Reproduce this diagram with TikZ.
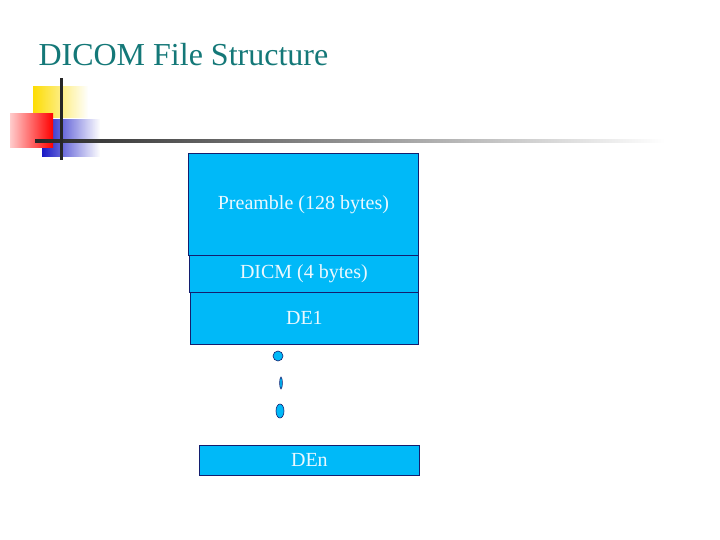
\documentclass[tikz,border=0pt]{standalone}
\usepackage{fontspec}
\setmainfont{Liberation Serif}
\usetikzlibrary{fadings}
\definecolor{boxfill}{RGB}{0,185,248}
\definecolor{boxline}{RGB}{20,30,110}
\definecolor{titlec}{RGB}{20,120,120}
\tikzset{blk/.style={draw=boxline,fill=boxfill,line width=0.8pt,text=white!92!cyan,font=\fontsize{20}{24}\selectfont}}
\begin{document}
\begin{tikzpicture}[x=1pt,y=-1pt]
\useasboundingbox (0,0) rectangle (720,540);
\fill[white] (0,0) rectangle (720,540);
\node[text=titlec,font=\fontsize{32}{38}\selectfont,anchor=west] (title) at (35,55) {DICOM File Structure};
% logo
\fill[yellow!80!orange,path fading=east] (33,86) rectangle (88,118);
\fill[blue!75!black!90,path fading=east] (42,119) rectangle (100,157);
\shade[left color=red!20,right color=red] (10,114) rectangle (53,148);
\shade[left color=black!85,right color=white] (35,140) rectangle (665,142.5);
\fill[black!85] (59.5,78) rectangle (62.5,160);
% boxes
\node[blk,minimum width=230,minimum height=102,inner sep=0,anchor=north west] (pre) at (188,153) {Preamble (128 bytes)};
\node[blk,minimum width=229,minimum height=37,inner sep=0,anchor=north west] (dicm) at (189,255) {DICM (4 bytes)};
\node[blk,minimum width=228,minimum height=52,inner sep=0,anchor=north west] (de1) at (190,292) {DE1};
\node[blk,minimum width=220,minimum height=30,inner sep=0,anchor=north west] (den) at (199,445) {DEn};
\draw[boxline,fill=boxfill,line width=0.6pt] (278,356) circle (5);
\draw[boxline,fill=boxfill,line width=0.6pt] (281,383) ellipse (1.3 and 6);
\draw[boxline,fill=boxfill,line width=0.6pt] (280,411) ellipse (4 and 7);
\end{tikzpicture}
\end{document}
